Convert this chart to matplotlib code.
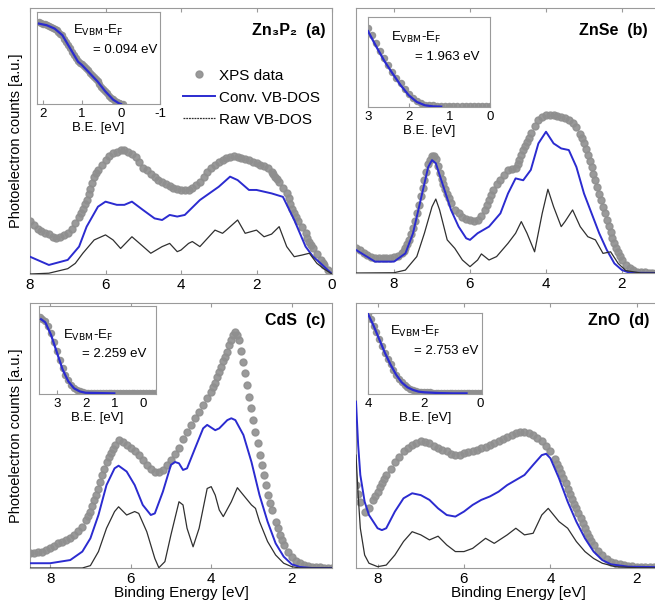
import numpy as np
import matplotlib
matplotlib.use("Agg")
import matplotlib.pyplot as plt

plt.rcParams['font.family'] = ['Liberation Sans', 'DejaVu Sans']
plt.rcParams['axes.unicode_minus'] = False

W, H = 655, 610

# ---------------- (a) Zn3P2 ----------------
xps_a_e = np.round(np.arange(8.0, -0.05, -0.1), 2)
xps_a = [0.20, 0.185, 0.17, 0.16, 0.155, 0.15, 0.14, 0.135, 0.14, 0.145,
         0.153, 0.17, 0.19, 0.215, 0.245, 0.278, 0.32, 0.366, 0.39, 0.41,
         0.43, 0.445, 0.454, 0.46, 0.466, 0.468, 0.46, 0.45, 0.44, 0.42,
         0.40, 0.39, 0.375, 0.366, 0.355, 0.347, 0.34, 0.33, 0.322, 0.318,
         0.316, 0.314, 0.316, 0.325, 0.335, 0.347, 0.365, 0.385, 0.40, 0.41,
         0.42, 0.43, 0.435, 0.44, 0.442, 0.44, 0.437, 0.433, 0.43, 0.422,
         0.416, 0.41, 0.405, 0.40, 0.385, 0.366, 0.345, 0.325, 0.303, 0.265,
         0.228, 0.20, 0.175, 0.153, 0.12, 0.096, 0.075, 0.053, 0.032, 0.015, 0.0]
# extra readings on the steep parts
xps_a_x_e = [6.65, 6.55, 6.45, 6.35, 6.25, 1.55, 1.45, 1.15, 1.05, 0.95, 0.65, 0.55, 0.25]
xps_a_x = [0.23, 0.262, 0.30, 0.343, 0.378, 0.376, 0.356, 0.284, 0.246, 0.214,
           0.136, 0.108, 0.042]
conv_a_e = [8.0, 7.5, 7.0, 6.7, 6.5, 6.2, 6.0, 5.7, 5.5, 5.3, 5.0, 4.7, 4.5, 4.3,
            4.1, 3.9, 3.5, 3.0, 2.7, 2.5, 2.2, 2.0, 1.6, 1.3, 1.0, 0.7, 0.5, 0.3, 0.1, 0.0]
conv_a = [0.065, 0.034, 0.053, 0.103, 0.178, 0.253, 0.272, 0.26, 0.26, 0.272,
          0.24, 0.209, 0.203, 0.222, 0.216, 0.222, 0.278, 0.328, 0.366, 0.353,
          0.316, 0.316, 0.303, 0.29, 0.203, 0.103, 0.065, 0.04, 0.013, 0.0]
raw_a_e = [8.0, 7.5, 7.0, 6.8, 6.6, 6.3, 6.0, 5.8, 5.6, 5.3, 5.0, 4.8, 4.5, 4.3,
           4.1, 4.0, 3.8, 3.7, 3.5, 3.1, 2.9, 2.8, 2.5, 2.3, 2.0, 1.8, 1.6, 1.4,
           1.2, 1.0, 0.8, 0.6, 0.4, 0.2, 0.0]
raw_a = [0.0, 0.003, 0.02, 0.04, 0.078, 0.128, 0.147, 0.128, 0.096, 0.14,
         0.103, 0.078, 0.103, 0.115, 0.084, 0.09, 0.115, 0.122, 0.103, 0.165,
         0.153, 0.165, 0.203, 0.153, 0.165, 0.14, 0.15, 0.178, 0.103, 0.065,
         0.071, 0.078, 0.04, 0.018, 0.0]
ins_xps_a_e = np.round(np.arange(2.1, -0.075, -0.05), 2)
ins_xps_a = [0.89, 0.885, 0.875, 0.865, 0.86, 0.85, 0.84, 0.825, 0.82, 0.80,
             0.785, 0.765, 0.745, 0.71, 0.675, 0.64, 0.605, 0.57, 0.53, 0.495,
             0.465, 0.445, 0.43, 0.41, 0.39, 0.365, 0.34, 0.315, 0.29, 0.27,
             0.245, 0.22, 0.19, 0.165, 0.14, 0.115, 0.09, 0.07, 0.05, 0.03,
             0.018, 0.01, 0.005, 0.002]
ins_conv_a_e = [2.1, 1.9, 1.7, 1.5, 1.3, 1.1, 1.0, 0.8, 0.6, 0.4, 0.2, 0.05, 0.0]
ins_conv_a = [0.874, 0.856, 0.82, 0.748, 0.604, 0.46, 0.424, 0.335, 0.245,
              0.137, 0.047, 0.007, 0.0]

# ---------------- (b) ZnSe ----------------
xps_b_e = np.round(np.arange(9.0, 0.95, -0.1), 2)
xps_b = [0.093, 0.085, 0.075, 0.068, 0.06, 0.055, 0.055, 0.055, 0.055, 0.058,
         0.062, 0.066, 0.074, 0.095, 0.125, 0.17, 0.225, 0.29, 0.35, 0.41,
         0.44, 0.43, 0.376, 0.335, 0.30, 0.265, 0.238, 0.225, 0.213, 0.205,
         0.20, 0.198, 0.20, 0.215, 0.238, 0.275, 0.313, 0.335, 0.35, 0.37,
         0.389, 0.392, 0.395, 0.425, 0.464, 0.495, 0.527, 0.555, 0.577, 0.59,
         0.596, 0.598, 0.596, 0.593, 0.59, 0.585, 0.577, 0.565, 0.552, 0.525,
         0.489, 0.445, 0.40, 0.35, 0.30, 0.25, 0.20, 0.155, 0.112, 0.078,
         0.049, 0.03, 0.018, 0.01, 0.005, 0.003, 0.002, 0.001, 0.001, 0.001, 0.001]
xps_b_x_e = [7.75, 7.65, 7.55, 7.45, 7.35, 7.25, 7.15, 7.05, 6.95, 6.85, 6.75,
             6.65, 6.55, 5.55, 5.45, 4.75, 4.65, 4.55, 4.45, 3.05, 2.95, 2.85,
             2.75, 2.65, 2.55, 2.45, 2.35, 2.25, 2.15, 2.05]
xps_b_x = [0.083, 0.11, 0.147, 0.197, 0.257, 0.32, 0.38, 0.428, 0.44, 0.405,
           0.355, 0.318, 0.282, 0.256, 0.294, 0.41, 0.444, 0.48, 0.511, 0.508,
           0.467, 0.423, 0.375, 0.325, 0.275, 0.225, 0.177, 0.133, 0.095, 0.063]
conv_b_e = [9.0, 8.5, 8.0, 7.7, 7.5, 7.3, 7.1, 7.0, 6.9, 6.7, 6.5, 6.3, 6.1, 6.0,
            5.8, 5.5, 5.2, 5.0, 4.8, 4.6, 4.4, 4.2, 4.0, 3.8, 3.6, 3.4, 3.2, 3.0,
            2.8, 2.6, 2.4, 2.2, 2.0, 1.8, 1.0]
conv_b = [0.087, 0.043, 0.043, 0.074, 0.15, 0.275, 0.40, 0.426, 0.414, 0.326,
          0.238, 0.175, 0.131, 0.125, 0.15, 0.175, 0.225, 0.30, 0.357, 0.35,
          0.389, 0.489, 0.533, 0.489, 0.47, 0.464, 0.40, 0.30, 0.225, 0.15,
          0.087, 0.036, 0.011, 0.001, 0.0]
raw_b_e = [9.0, 8.0, 7.7, 7.4, 7.2, 7.0, 6.9, 6.8, 6.6, 6.4, 6.2, 6.0, 5.8, 5.7,
           5.5, 5.3, 5.0, 4.8, 4.65, 4.5, 4.3, 4.1, 3.95, 3.8, 3.6, 3.5, 3.3, 3.1,
           2.9, 2.7, 2.5, 2.3, 2.1, 1.9, 1.5, 1.0]
raw_b = [0.0, 0.001, 0.011, 0.062, 0.15, 0.25, 0.279, 0.238, 0.125, 0.093,
         0.049, 0.024, 0.049, 0.072, 0.049, 0.062, 0.112, 0.15, 0.194, 0.15,
         0.08, 0.225, 0.316, 0.25, 0.175, 0.194, 0.238, 0.175, 0.137, 0.125,
         0.074, 0.08, 0.036, 0.009, 0.0, 0.0]
ins_xps_b_e = np.round(np.arange(3.0, -0.05, -0.1), 2)
ins_xps_b = [0.88, 0.80, 0.71, 0.625, 0.543, 0.465, 0.393, 0.325, 0.262, 0.205,
             0.15, 0.10, 0.064, 0.04, 0.026, 0.02, 0.019, 0.016, 0.015, 0.014,
             0.013, 0.013, 0.012, 0.012, 0.012, 0.011, 0.011, 0.011, 0.011,
             0.011, 0.011]
ins_conv_b_e = [3.0, 2.8, 2.6, 2.4, 2.2, 2.0, 1.8, 1.6, 1.4, 1.2]
ins_conv_b = [0.843, 0.674, 0.513, 0.375, 0.243, 0.131, 0.056, 0.019, 0.007, 0.004]

# ---------------- (c) CdS ----------------
xps_c_e = np.round(np.arange(8.5, 0.95, -0.1), 2)
xps_c = [0.055, 0.057, 0.06, 0.062, 0.068, 0.074, 0.083, 0.093, 0.10, 0.106,
         0.115, 0.125, 0.14, 0.156, 0.18, 0.213, 0.255, 0.30, 0.35, 0.40,
         0.435, 0.464, 0.483, 0.476, 0.465, 0.452, 0.44, 0.426, 0.408, 0.389,
         0.375, 0.364, 0.362, 0.37, 0.388, 0.408, 0.43, 0.452, 0.485, 0.514,
         0.54, 0.565, 0.59, 0.615, 0.64, 0.665, 0.70, 0.741, 0.78, 0.816,
         0.86, 0.89, 0.86, 0.779, 0.69, 0.603, 0.514, 0.426, 0.35, 0.275,
         0.22, 0.175, 0.125, 0.087, 0.062, 0.043, 0.028, 0.018, 0.01, 0.007,
         0.005, 0.003, 0.002, 0.001, 0.0, 0.0]
xps_c_x_e = [7.05, 6.95, 6.85, 6.75, 6.65, 6.55, 6.45, 3.95, 3.85, 3.75, 3.65,
             3.55, 3.45, 3.35, 3.25, 3.15, 3.05, 2.95, 2.85, 2.75, 2.65, 2.55,
             2.35, 2.25]
xps_c_x = [0.196, 0.234, 0.277, 0.325, 0.375, 0.418, 0.45, 0.682, 0.72, 0.76,
           0.798, 0.84, 0.878, 0.88, 0.82, 0.735, 0.647, 0.558, 0.47, 0.388,
           0.312, 0.247, 0.15, 0.105]
conv_c_e = [8.5, 8.0, 7.5, 7.2, 7.0, 6.8, 6.6, 6.4, 6.3, 6.1, 5.9, 5.7, 5.5, 5.4,
            5.2, 5.0, 4.9, 4.8, 4.7, 4.6, 4.4, 4.2, 4.1, 3.9, 3.8, 3.6, 3.5, 3.4,
            3.2, 3.0, 2.8, 2.6, 2.4, 2.2, 2.0, 1.8, 1.5, 1.0]
conv_c = [0.018, 0.018, 0.03, 0.062, 0.112, 0.20, 0.313, 0.376, 0.386, 0.364,
          0.313, 0.238, 0.20, 0.206, 0.288, 0.389, 0.40, 0.395, 0.37, 0.376,
          0.452, 0.527, 0.54, 0.52, 0.527, 0.558, 0.565, 0.558, 0.502, 0.40,
          0.275, 0.175, 0.093, 0.043, 0.014, 0.004, 0.0, 0.0]
raw_c_e = [8.5, 7.2, 7.0, 6.8, 6.6, 6.4, 6.3, 6.1, 5.9, 5.8, 5.6, 5.4, 5.3, 5.15,
           5.0, 4.8, 4.7, 4.6, 4.45, 4.3, 4.1, 4.0, 3.9, 3.8, 3.7, 3.5, 3.35, 3.2,
           3.0, 2.9, 2.8, 2.6, 2.4, 2.2, 2.0, 1.8, 1.0]
raw_c = [0.0, 0.0, 0.009, 0.062, 0.15, 0.213, 0.231, 0.20, 0.213, 0.206,
         0.137, 0.036, 0.001, 0.024, 0.125, 0.25, 0.238, 0.15, 0.08, 0.15,
         0.30, 0.307, 0.275, 0.219, 0.194, 0.25, 0.303, 0.275, 0.238, 0.225,
         0.175, 0.10, 0.049, 0.018, 0.005, 0.0, 0.0]
ins_xps_c_e = np.round(np.arange(3.6, -0.45, -0.1), 2)
ins_xps_c = [0.87, 0.855, 0.832, 0.77, 0.69, 0.59, 0.493, 0.39, 0.296, 0.215,
             0.154, 0.105, 0.071, 0.045, 0.029, 0.02, 0.014, 0.011, 0.009, 0.008,
             0.007, 0.007, 0.007, 0.007, 0.007, 0.007, 0.007, 0.007, 0.007, 0.007,
             0.007, 0.007, 0.007, 0.007, 0.007, 0.007, 0.007, 0.007, 0.007, 0.007,
             0.007]
ins_conv_c_e = [3.55, 3.4, 3.2, 3.0, 2.8, 2.6, 2.4, 2.2, 2.0, 1.0]
ins_conv_c = [0.85, 0.814, 0.67, 0.475, 0.279, 0.143, 0.064, 0.029, 0.014, 0.007]

# ---------------- (d) ZnO ----------------
xps_d_e = np.round(np.arange(8.5, 1.45, -0.1), 2)
xps_d = [0.313, 0.25, 0.213, 0.226, 0.255, 0.288, 0.32, 0.351, 0.375, 0.40,
         0.42, 0.44, 0.452, 0.464, 0.472, 0.478, 0.475, 0.47, 0.46, 0.452,
         0.445, 0.44, 0.432, 0.426, 0.428, 0.433, 0.436, 0.44, 0.446, 0.452,
         0.458, 0.464, 0.47, 0.478, 0.487, 0.496, 0.502, 0.508, 0.512, 0.515,
         0.51, 0.502, 0.49, 0.478, 0.46, 0.44, 0.41, 0.376, 0.34, 0.30,
         0.262, 0.225, 0.187, 0.15, 0.117, 0.087, 0.066, 0.049, 0.035, 0.024,
         0.018, 0.014, 0.011, 0.008, 0.006, 0.005, 0.004, 0.003, 0.002, 0.002, 0.002]
xps_d_x_e = [8.45, 8.05, 7.95, 7.85, 3.85, 3.75, 3.65, 3.55, 3.45, 3.35, 3.25,
             3.15, 3.05]
xps_d_x = [0.28, 0.272, 0.304, 0.336, 0.393, 0.358, 0.32, 0.281, 0.243, 0.206,
           0.168, 0.133, 0.102]
conv_d_e = [8.5, 8.45, 8.4, 8.3, 8.2, 8.0, 7.9, 7.8, 7.6, 7.4, 7.2, 7.0, 6.8, 6.6,
            6.4, 6.2, 6.0, 5.8, 5.6, 5.4, 5.2, 5.0, 4.8, 4.6, 4.4, 4.2, 4.1, 4.0,
            3.8, 3.6, 3.4, 3.2, 3.0, 2.8, 2.6, 2.2, 1.0]
conv_d = [0.628, 0.464, 0.351, 0.25, 0.20, 0.15, 0.143, 0.15, 0.213, 0.263,
          0.282, 0.275, 0.257, 0.225, 0.20, 0.194, 0.213, 0.238, 0.257, 0.27,
          0.288, 0.313, 0.332, 0.351, 0.389, 0.426, 0.431, 0.414, 0.338, 0.25,
          0.175, 0.112, 0.062, 0.03, 0.014, 0.005, 0.002]
raw_d_e = [8.5, 8.45, 8.4, 8.3, 8.2, 8.0, 7.8, 7.6, 7.4, 7.2, 7.0, 6.8, 6.6, 6.4,
           6.2, 6.0, 5.8, 5.5, 5.3, 5.0, 4.8, 4.6, 4.4, 4.2, 4.05, 3.8, 3.6, 3.4,
           3.2, 3.0, 2.8, 2.5, 2.0, 1.0]
raw_d = [0.426, 0.275, 0.15, 0.049, 0.018, 0.005, 0.011, 0.049, 0.10, 0.137,
         0.125, 0.106, 0.12, 0.087, 0.062, 0.062, 0.074, 0.112, 0.093, 0.125,
         0.15, 0.125, 0.131, 0.20, 0.225, 0.175, 0.15, 0.10, 0.062, 0.036,
         0.018, 0.005, 0.001, 0.0]
ins_xps_d_e = np.round(np.arange(4.0, -0.05, -0.1), 2)
ins_xps_d = [0.99, 0.92, 0.845, 0.76, 0.68, 0.595, 0.51, 0.435, 0.365, 0.295,
             0.24, 0.19, 0.145, 0.11, 0.085, 0.065, 0.05, 0.04, 0.03, 0.025,
             0.022, 0.02, 0.019, 0.018, 0.017, 0.016, 0.015, 0.015, 0.014, 0.014,
             0.013, 0.013, 0.013, 0.012, 0.012, 0.012, 0.012, 0.012, 0.012, 0.012, 0.012]
ins_conv_d_e = [4.0, 3.8, 3.6, 3.4, 3.2, 3.0, 2.8, 2.6, 2.4, 2.2, 2.0, 1.5, 1.0, 0.5]
ins_conv_d = [0.988, 0.842, 0.675, 0.508, 0.363, 0.238, 0.142, 0.083, 0.05,
              0.029, 0.021, 0.012, 0.008, 0.008]

titles = ['Zn\u2083P\u2082  (a)', 'ZnSe  (b)', 'CdS  (c)', 'ZnO  (d)']
offsets = ['= 0.094 eV', '= 1.963 eV', '= 2.259 eV', '= 2.753 eV']

DOT = '#8f8f8f'
BLUE = '#2b2bd0'
RAW = '#303030'
FRAME = '#9a9a9a'

fig = plt.figure(figsize=(W / 100, H / 100), dpi=100)


def px_axes(l, t, r, b):
    return fig.add_axes([l / W, 1 - b / H, (r - l) / W, (b - t) / H])


def style(ax, fs):
    for s in ax.spines.values():
        s.set_color(FRAME)
        s.set_linewidth(0.8)
    ax.set_yticks([])
    ax.tick_params(axis='x', direction='in', top=True, color=FRAME,
                   labelsize=fs, length=3, pad=3)


panels = [
    dict(box=(30, 8, 332, 274), xlim=(8, 0), ticks=[8, 6, 4, 2, 0],
         xps=(xps_a_e, xps_a), xps2=(xps_a_x_e, xps_a_x),
         conv=(conv_a_e, conv_a), raw=(raw_a_e, raw_a),
         ibox=(37, 12, 160, 104), ixlim=(2.15, -1), iticks=[2, 1, 0, -1],
         ixps=(ins_xps_a_e, ins_xps_a), iconv=(ins_conv_a_e, ins_conv_a),
         tpos=(0.977, 0.915), epos=(0.29, 0.80), vpos=(0.98, 0.59)),
    dict(box=(356, 8, 660, 273), xlim=(9, 1), ticks=[8, 6, 4, 2],
         xps=(xps_b_e, xps_b), xps2=(xps_b_x_e, xps_b_x),
         conv=(conv_b_e, conv_b), raw=(raw_b_e, raw_b),
         ibox=(368, 17, 490, 107), ixlim=(3, 0), iticks=[3, 2, 1, 0],
         ixps=(ins_xps_b_e, ins_xps_b), iconv=(ins_conv_b_e, ins_conv_b),
         tpos=(0.96, 0.915), epos=(0.19, 0.77), vpos=(0.91, 0.55)),
    dict(box=(30, 303, 332, 568), xlim=(8.5, 1), ticks=[8, 6, 4, 2],
         xps=(xps_c_e, xps_c), xps2=(xps_c_x_e, xps_c_x),
         conv=(conv_c_e, conv_c), raw=(raw_c_e, raw_c),
         ibox=(39, 306, 156, 394), ixlim=(3.62, -0.45), iticks=[3, 2, 1, 0],
         ixps=(ins_xps_c_e, ins_xps_c), iconv=(ins_conv_c_e, ins_conv_c),
         tpos=(0.977, 0.935), epos=(0.205, 0.67), vpos=(0.92, 0.455)),
    dict(box=(356, 303, 680, 568), xlim=(8.5, 1), ticks=[8, 6, 4, 2],
         xps=(xps_d_e, xps_d), xps2=(xps_d_x_e, xps_d_x),
         conv=(conv_d_e, conv_d), raw=(raw_d_e, raw_d),
         ibox=(368, 313, 482, 394), ixlim=(4, -0.05), iticks=[4, 2, 0],
         ixps=(ins_xps_d_e, ins_xps_d), iconv=(ins_conv_d_e, ins_conv_d),
         tpos=(0.906, 0.935), epos=(0.19, 0.775), vpos=(0.97, 0.525)),
]

for i, p in enumerate(panels):
    ax = px_axes(*p['box'])
    ax.plot(*p['xps'], 'o', color=DOT, ms=5, mec=DOT, alpha=0.9,
            label='XPS data', zorder=2)
    ax.plot(*p['xps2'], 'o', color=DOT, ms=5, mec=DOT, alpha=0.9, zorder=2)
    ax.plot(*p['conv'], color=BLUE, lw=1.4, label='Conv. VB-DOS', zorder=3)
    ax.plot(*p['raw'], color=RAW, lw=0.9, label='Raw VB-DOS', zorder=3)
    ax.set_xlim(*p['xlim'])
    ax.set_ylim(0, 1)
    ax.set_xticks(p['ticks'])
    style(ax, 11)
    ax.text(*p['tpos'], titles[i], transform=ax.transAxes, ha='right',
            va='center', fontsize=11.5, fontweight='bold')
    if i % 2 == 0:
        ax.set_ylabel('Photoelectron counts [a.u.]', fontsize=10.5, labelpad=5)
    if i >= 2:
        ax.set_xlabel('Binding Energy [eV]', fontsize=11, labelpad=0)
    if i == 0:
        leg = ax.legend(loc='upper left', bbox_to_anchor=(0.48, 0.80),
                        frameon=False, fontsize=11, handlelength=2.1,
                        handletextpad=0.3, labelspacing=0.52, borderpad=0)
        leg.get_lines()[2].set_linestyle((0, (1.5, 0.7)))

    ins = px_axes(*p['ibox'])
    ins.plot(*p['ixps'], 'o', color=DOT, ms=4.4, mec=DOT, alpha=0.9, zorder=2)
    ins.plot(*p['iconv'], color=BLUE, lw=1.6, zorder=3)
    ins.set_xlim(*p['ixlim'])
    ins.set_ylim(0, 1)
    ins.set_xticks(p['iticks'])
    style(ins, 9.5)
    ins.tick_params(axis='x', top=False)
    ins.set_xlabel('B.E. [eV]', fontsize=9.5, labelpad=1)
    ins.text(*p['epos'], r'E$_{\mathrm{VBM}}$-E$_{\mathrm{F}}$', transform=ins.transAxes,
             ha='left', va='center', fontsize=9.5)
    ins.text(*p['vpos'], offsets[i], transform=ins.transAxes,
             ha='right', va='center', fontsize=9.5)

fig.savefig('out.png', dpi=100)
